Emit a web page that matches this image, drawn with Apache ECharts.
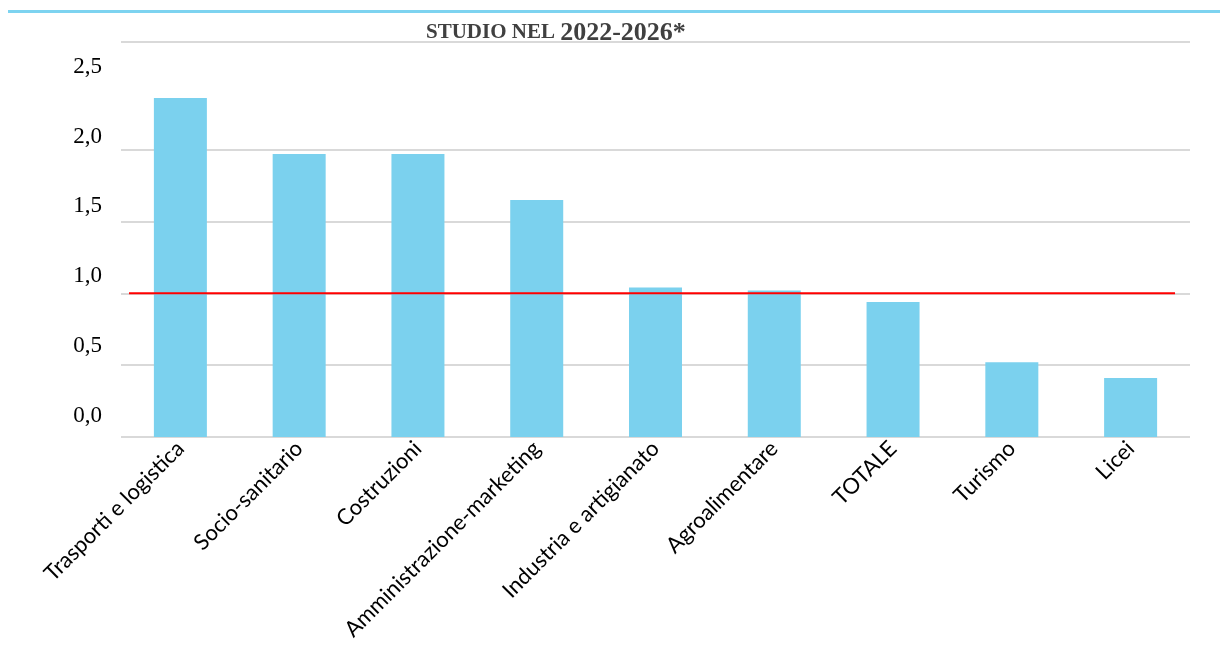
<!DOCTYPE html>
<html>
<head>
<meta charset="utf-8">
<script src="https://cdn.jsdelivr.net/npm/echarts@6/dist/echarts.min.js"></script>
<style>
  html, body { margin: 0; padding: 0; background: #fff; }
  #main { width: 1220px; height: 646px; }
</style>
</head>
<body>
<div id="main"></div>
<script>
// categorie e valori
var categories = ['Trasporti e logistica', 'Socio-sanitario', 'Costruzioni', 'Amministrazione-marketing',
  'Industria e artigianato', 'Agroalimentare', 'TOTALE', 'Turismo', 'Licei'];
var values = [2.36, 1.97, 1.97, 1.65, 1.04, 1.02, 0.94, 0.52, 0.41];
var yTickLabels = [0, 0.5, 1, 1.5, 2, 2.5];
var gridValues = [0, 0.5, 1, 1.5, 2, 2.75];
var refValue = 1;

var chart = echarts.init(document.getElementById('main'), null, { renderer: 'canvas' });

var option = {
  animation: false,
  backgroundColor: '#fff',
  title: {
    text: '{a|STUDIO NEL }{b|2022-2026*}',
    left: 421,
    top: 15,
    textStyle: {
      rich: {
        a: { fontFamily: 'Liberation Serif', fontWeight: 'bold', fontSize: 21, color: '#404040' },
        b: { fontFamily: 'Liberation Serif', fontWeight: 'bold', fontSize: 26, color: '#404040' }
      }
    }
  },
  graphic: [
    { type: 'rect', shape: { x: 8, y: 10, width: 1212, height: 3 }, style: { fill: '#7dd3f0' } }
  ],
  grid: { left: 121, right: 30, top: 42, height: 395, outerBoundsMode: 'none', containLabel: false },
  xAxis: [
    {
      type: 'category',
      data: categories,
      axisLine: { show: false },
      axisTick: { show: false },
      axisLabel: {
        interval: 0,
        rotate: 45,
        margin: 8,
        fontFamily: 'Lato',
        fontSize: 22,
        color: '#000'
      }
    },
    { type: 'value', min: 0, max: 1, show: false }
  ],
  yAxis: [
    {
      type: 'value',
      min: 0,
      max: 2.75,
      axisLine: { show: false },
      axisTick: { show: false },
      axisLabel: { show: false },
      splitLine: { show: false }
    },
    {
      // asse solo per le etichette (nel grafico originale sono spostate in alto)
      type: 'value',
      position: 'left',
      min: -0.1526,
      max: 2.677,
      axisLine: { show: false },
      axisTick: { show: false },
      splitLine: { show: false },
      axisLabel: {
        customValues: yTickLabels,
        margin: 19,
        fontFamily: 'Liberation Serif',
        fontSize: 23,
        color: '#000',
        formatter: function (v) { return v.toFixed(1).replace('.', ','); }
      }
    }
  ],
  series: [
    {
      // linee della griglia
      type: 'line',
      data: [],
      z: 1,
      silent: true,
      markLine: {
        silent: true,
        z: 1,
        symbol: 'none',
        label: { show: false },
        lineStyle: { color: '#d9d9d9', width: 2, type: 'solid' },
        data: gridValues.map(function (v) { return { yAxis: v }; })
      }
    },
    {
      type: 'bar',
      data: values,
      barWidth: 53,
      z: 2,
      itemStyle: { color: '#7bd1ee' }
    },
    {
      // linea di riferimento rossa a 1,0
      type: 'line',
      xAxisIndex: 1,
      data: [[0.0075, refValue], [0.986, refValue]],
      symbol: 'none',
      z: 3,
      silent: true,
      lineStyle: { color: '#ff0000', width: 2 }
    }
  ]
};

chart.setOption(option);
</script>
</body>
</html>
